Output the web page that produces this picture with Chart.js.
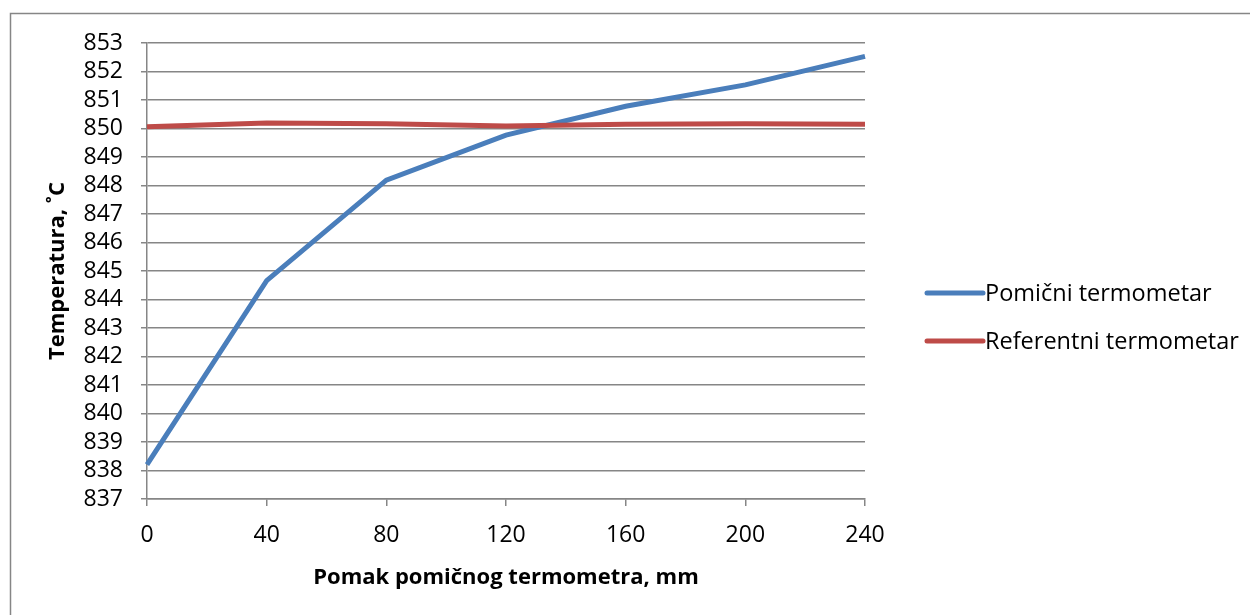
<!DOCTYPE html>
<html>
<head>
<meta charset="utf-8">
<script src="https://cdn.jsdelivr.net/npm/chart.js@4.4.1/dist/chart.umd.min.js"></script>
<style>
  body { margin: 0; background: #fff; }
  canvas { display: block; }
</style>
</head>
<body>
<canvas id="tempChart" width="1250" height="615"></canvas>
<script>
// data
const pomak = ['0', '40', '80', '120', '160', '200', '240'];
const pomicni = [838.21, 844.66, 848.19, 849.77, 850.78, 851.53, 852.53];
const referentni = [850.06, 850.19, 850.17, 850.09, 850.15, 850.17, 850.15];
const seriesNames = ['Pomični termometar', 'Referentni termometar'];

const gray = '#868686';
const font = 'Open Sans';

Chart.defaults.color = '#000';
Chart.defaults.font.family = font;

// frame round the chart + legend on the right
const frameAndLegend = {
    id: 'frameAndLegend',
    beforeDraw(chart) {
        const c = chart.ctx;
        c.save();
        c.strokeStyle = gray;
        c.lineWidth = 1.5;
        c.strokeRect(10.5, 13.5, 1400, 800);
        c.restore();
    },
    afterDraw(chart) {
        const c = chart.ctx;
        c.save();
        chart.data.datasets.forEach((ds, i) => {
            const y = 293 + i * 48;
            c.strokeStyle = ds.borderColor;
            c.lineWidth = 5;
            c.lineCap = 'round';
            c.beginPath();
            c.moveTo(927, y);
            c.lineTo(983, y);
            c.stroke();
            c.fillStyle = '#000';
            c.font = '23.5px "' + font + '"';
            c.textBaseline = 'middle';
            c.fillText(ds.label, 985, y + 1);
        });
        c.restore();
    }
};

const ctx = document.getElementById('tempChart').getContext('2d');
const chart = new Chart(ctx, {
    type: 'line',
    data: {
        labels: pomak,
        datasets: [{
            label: seriesNames[0],
            data: pomicni,
            borderColor: '#4A7EBB',
            backgroundColor: '#4A7EBB',
            borderWidth: 5,
            pointRadius: 0,
            tension: 0,
            order: 1
        }, {
            label: seriesNames[1],
            data: referentni,
            borderColor: '#BE4B48',
            backgroundColor: '#BE4B48',
            borderWidth: 5,
            pointRadius: 0,
            tension: 0,
            order: 0
        }]
    },
    options: {
        responsive: false,
        animation: false,
        layout: {
            padding: { left: 0, top: 43, right: 385, bottom: 0 }
        },
        plugins: {
            legend: { display: false },
            tooltip: { enabled: false }
        },
        scales: {
            x: {
                offset: false,
                afterFit: (s) => { s.height = 116; },
                grid: {
                    drawOnChartArea: false,
                    drawTicks: true,
                    tickLength: 7,
                    color: gray,
                    lineWidth: 1.5
                },
                border: { display: true, color: gray, width: 1.5 },
                ticks: {
                    font: { size: 23 },
                    padding: 16,
                    maxRotation: 0,
                    autoSkip: false
                },
                title: {
                    display: true,
                    text: 'Pomak pomičnog termometra, mm',
                    font: { size: 22, weight: 'bold' },
                    padding: { top: 0, bottom: 24 }
                }
            },
            y: {
                min: 837,
                max: 853,
                afterFit: (s) => { s.width = 147; },
                grid: {
                    drawTicks: true,
                    tickLength: 6,
                    color: gray,
                    lineWidth: 1.5
                },
                border: { display: true, color: gray, width: 1.5 },
                ticks: {
                    stepSize: 1,
                    font: { size: 23 },
                    padding: 18,
                    autoSkip: false
                },
                title: {
                    display: true,
                    text: 'Temperatura, ˚C',
                    font: { size: 22, weight: 'bold' },
                    padding: { top: 45, bottom: 0 }
                }
            }
        }
    },
    plugins: [frameAndLegend]
});
</script>
</body>
</html>
